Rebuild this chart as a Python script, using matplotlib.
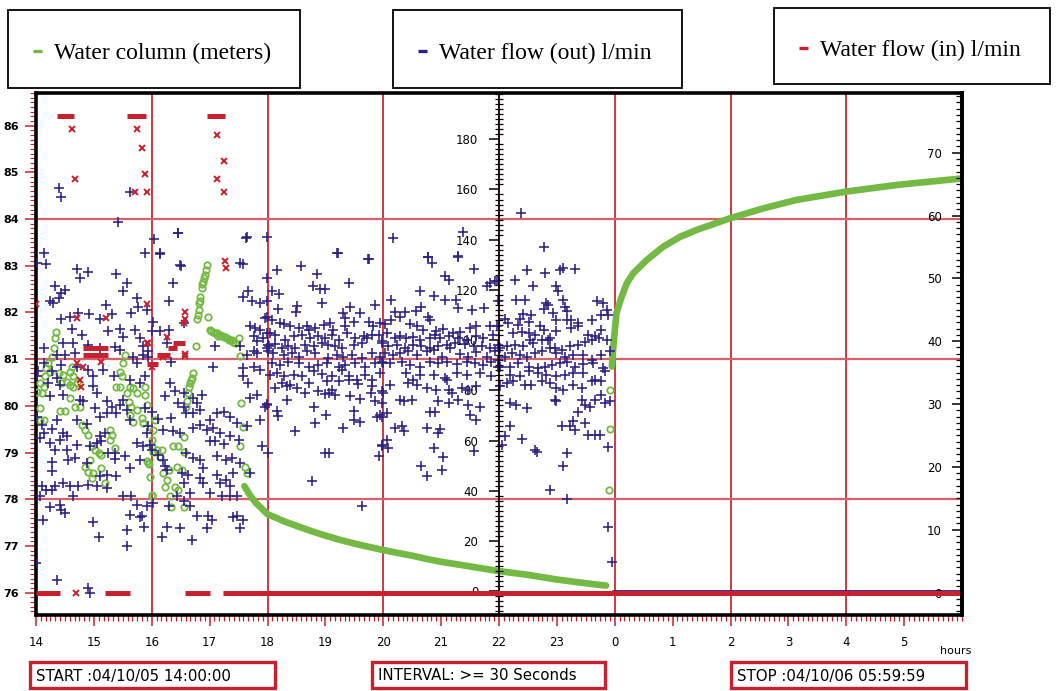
#!/usr/bin/env python3

'''Water column and water flow log, 04/10/05 14:00 to 04/10/06 06:00.'''

import matplotlib
matplotlib.use('Agg')
import matplotlib.pyplot as plt
import matplotlib.ticker as ticker
from matplotlib.lines import Line2D
from matplotlib.patches import Rectangle


W, H = 1056, 691
GREEN = '#74b943'
BLUE = '#2d2083'
RED = '#c8202e'
GRID_V = '#c92a36'
GRID_H = '#d6616d'
TICK_FONT = 8.5
SPINE_LW = 2.6

# ---------------------------------------------------------------- data
# time is in hours since midnight of 04/10/05 (24 -> 0 on the next day)
XTICK_HOURS = [14, 15, 16, 17, 18, 19, 20, 21, 22, 23, 24, 25, 26, 27, 28, 29]
XTICK_LABELS = ['14', '15', '16', '17', '18', '19', '20', '21', '22', '23',
                '0', '1', '2', '3', '4', '5']
GRID_HOURS = [16, 18, 20, 22, 24, 26, 28]
GRID_METERS = [78, 81, 84]

# water column (m), scattered readings before the pump settles
LEVEL_SCATTER = [
    (14.35, 81.59), (14.33, 81.45), (14.31, 81.23), (14.27, 81.05), (14.21, 80.91),
    (14.18, 80.80), (14.25, 80.73), (14.16, 80.63), (14.07, 80.48), (14.13, 80.41),
    (14.01, 80.30), (14.10, 80.27), (14.39, 80.70), (14.47, 80.66), (14.44, 80.48),
    (14.53, 80.52), (14.62, 80.84), (14.59, 80.73), (14.64, 80.63), (14.58, 80.45),
    (14.64, 80.41), (14.70, 80.48), (14.59, 80.16), (14.50, 79.88), (14.41, 79.88),
    (14.67, 79.98), (14.76, 79.98), (14.07, 79.95), (14.13, 79.70), (14.07, 79.70),
    (14.79, 79.59), (14.85, 79.48), (14.90, 79.38), (14.96, 79.13), (15.02, 79.06),
    (15.08, 78.98), (15.13, 78.95), (14.93, 78.84), (14.85, 78.70), (14.90, 78.59),
    (14.99, 78.56), (14.96, 78.45), (15.13, 78.66), (15.28, 79.48), (15.31, 79.38),
    (15.28, 79.27), (15.37, 79.09), (15.19, 78.34), (15.39, 80.41), (15.45, 80.41),
    (15.54, 81.09), (15.51, 80.91), (15.45, 80.73), (15.48, 80.63), (15.62, 80.41),
    (15.57, 80.27), (15.68, 80.38), (15.74, 80.27), (15.60, 80.09), (15.65, 79.98),
    (15.62, 79.80), (15.68, 79.66), (15.74, 79.91), (15.83, 79.73), (15.88, 80.41),
    (15.88, 80.23), (15.91, 80.02), (15.85, 79.63), (16.00, 79.13), (16.03, 79.02),
    (15.94, 78.77), (15.97, 78.48), (16.00, 78.06), (15.91, 78.81), (15.95, 78.75),
    (16.95, 83.02), (16.92, 82.80), (16.89, 82.66), (16.86, 82.52), (16.83, 82.34),
    (16.82, 82.20), (16.81, 82.05), (16.79, 81.85), (16.80, 81.95), (16.84, 82.25),
    (16.87, 82.60), (16.90, 82.73), (16.93, 82.90), (16.98, 81.91), (17.01, 81.62),
    (17.03, 81.60), (17.06, 81.58), (17.09, 81.55), (17.12, 81.55), (17.15, 81.50),
    (17.18, 81.52), (17.21, 81.50), (17.24, 81.47), (17.27, 81.48), (17.30, 81.45),
    (17.33, 81.42), (17.35, 81.41), (17.38, 81.40), (17.41, 81.37), (17.44, 81.34),
    (17.50, 81.45), (17.53, 81.07), (16.76, 81.28), (16.72, 80.70), (16.69, 80.59),
    (16.66, 80.48), (16.63, 80.27), (16.59, 79.98), (16.61, 80.10), (16.64, 80.40),
    (16.68, 80.55), (16.06, 79.70), (16.03, 79.48), (16.00, 79.27), (16.09, 79.06),
    (16.17, 79.06), (16.14, 78.91), (16.37, 79.13), (16.46, 79.13), (16.55, 79.02),
    (16.55, 79.34), (16.20, 78.56), (16.26, 78.41), (16.23, 78.27), (16.32, 78.06),
    (16.40, 78.27), (16.46, 78.20), (16.29, 78.63), (16.52, 78.63), (16.43, 78.70),
    (16.00, 78.09), (17.55, 80.05), (17.58, 79.55), (17.53, 79.13), (17.61, 78.70),
    (17.64, 78.56), (16.34, 77.84), (16.55, 77.84),
    (23.90, 78.20), (23.92, 79.50), (23.92, 80.33),
]

# water column (m), draining after 17:40
DRAIN_H = [17.60, 17.70, 17.80, 17.90, 18.00, 18.15, 18.30, 18.50, 18.75, 19.00,
           19.25, 19.50, 19.75, 20.00, 20.25, 20.50, 20.75, 21.00, 21.25, 21.50,
           21.75, 22.00, 22.25, 22.50, 22.75, 23.00, 23.25, 23.50, 23.70, 23.85]
DRAIN_M = [78.28, 78.08, 77.92, 77.80, 77.68, 77.60, 77.52, 77.43, 77.32, 77.22,
           77.13, 77.05, 76.98, 76.91, 76.85, 76.79, 76.72, 76.66, 76.61, 76.56,
           76.51, 76.46, 76.42, 76.38, 76.33, 76.28, 76.24, 76.20, 76.17, 76.15]

# water column (m), recovery after the pump stops
RECOVER_H = [23.95, 23.98, 24.03, 24.12, 24.21, 24.32, 24.55, 24.84, 25.13, 25.42,
             26.00, 26.57, 27.14, 28.01, 28.87, 30.00]
RECOVER_M = [80.84, 81.34, 81.99, 82.34, 82.63, 82.84, 83.12, 83.41, 83.62, 83.77,
             84.02, 84.23, 84.41, 84.59, 84.73, 84.87]

# water flow out (l/min)
FLOW_OUT_14_16 = [
    (14.40, 160.5), (14.44, 157.1), (15.62, 158.9),
    (15.42, 147.2), (14.13, 134.6), (15.88, 134.6), (14.01, 130.9), (14.17, 130.4),
    (14.70, 128.3), (14.89, 127.3), (14.76, 124.7), (15.38, 126.4), (15.57, 122.7),
    (14.33, 121.6), (14.50, 119.8), (14.44, 118.7), (15.51, 119.4), (15.74, 116.7),
    (14.24, 115.4), (14.39, 116.7), (14.30, 115.0), (15.21, 114.1), (15.77, 113.2),
    (15.65, 111.0), (15.91, 112.1), (14.73, 111.0), (14.92, 110.5), (14.44, 108.4),
    (14.59, 109.4), (15.31, 110.5), (15.11, 108.4), (15.25, 103.5), (14.62, 104.4),
    (15.45, 104.4), (15.71, 104.1), (14.79, 102.1), (15.51, 101.2), (15.80, 100.8),
    (14.47, 98.8), (14.64, 98.8), (14.90, 98.2), (15.11, 96.8), (15.37, 97.2),
    (15.45, 96.2), (15.85, 97.5), (15.94, 95.5), (14.13, 96.8), (14.36, 94.2),
    (14.50, 94.2), (14.67, 94.8), (15.68, 93.5), (15.85, 94.2), (14.13, 90.9),
    (14.44, 90.2), (14.70, 89.5), (14.90, 88.2), (15.16, 88.2), (15.74, 90.9),
    (15.94, 93.5), (14.04, 87.6), (14.27, 87.6), (14.01, 85.6), (14.36, 84.9),
    (14.99, 85.6), (15.34, 85.6), (15.62, 84.2), (15.88, 85.8), (14.21, 82.9),
    (14.41, 82.3), (15.80, 82.9), (14.99, 81.6), (15.05, 78.9), (14.47, 78.3),
    (14.24, 77.6), (14.76, 76.3), (14.82, 75.6), (15.22, 75.6), (15.31, 73.6),
    (15.45, 74.3), (15.51, 76.3), (15.02, 73.0), (15.39, 71.0), (15.22, 71.0),
    (15.57, 72.3), (15.88, 73.0), (14.01, 69.6), (14.36, 68.3), (14.70, 68.3),
    (14.88, 66.7), (15.11, 69.6), (15.62, 68.3), (15.94, 65.7), (14.10, 66.3),
    (14.13, 63.0), (14.27, 64.6), (14.47, 63.0), (14.53, 61.7), (14.41, 60.4),
    (15.11, 61.7), (15.19, 63.0), (15.91, 63.0), (14.07, 61.0), (14.24, 59.0),
    (14.33, 56.4), (14.53, 56.4), (14.70, 58.4), (14.93, 57.7), (15.05, 59.0),
    (15.13, 59.7), (15.25, 55.1), (15.37, 55.1), (15.54, 53.7), (15.74, 59.0),
    (15.85, 57.7), (15.97, 58.4), (14.27, 51.7), (14.56, 52.4), (14.67, 53.1),
    (14.88, 51.1), (15.37, 52.7), (15.62, 49.1), (15.80, 52.4), (14.27, 47.8),
    (15.11, 45.8), (15.22, 46.4), (15.39, 45.8), (14.10, 41.8), (14.33, 42.1),
    (14.47, 43.1), (14.59, 41.8), (14.73, 41.8), (14.90, 42.5), (15.05, 42.1),
    (15.22, 41.1), (14.18, 40.2), (14.07, 38.1), (14.64, 38.1), (15.51, 37.8),
    (15.65, 37.8), (14.27, 40.5), (14.41, 34.5), (14.50, 31.2), (15.62, 30.5),
    (15.74, 34.5), (15.83, 30.1), (15.91, 34.1), (14.24, 33.7), (14.44, 32.4),
    (14.12, 28.4), (14.98, 27.7), (15.08, 21.8), (15.57, 24.5), (15.57, 18.2),
    (15.80, 29.7), (15.87, 25.8), (14.36, 4.5), (14.90, 1.2), (14.94, -0.8),
    (14.00, 11.3),
]
FLOW_OUT_16_18 = [
    (16.04, 140.2), (16.46, 142.5), (17.63, 140.8), (16.15, 134.3), (16.50, 129.7),
    (17.57, 130.2), (16.46, 142.6), (17.64, 141.0), (16.14, 134.6), (16.49, 130.0),
    (17.53, 130.7), (16.37, 122.7), (17.99, 124.7), (16.29, 115.4), (17.67, 119.4),
    (17.58, 117.1), (17.73, 115.4), (17.87, 114.7), (17.99, 115.4), (16.03, 107.4),
    (16.55, 106.8), (17.96, 108.8), (17.70, 105.5), (17.78, 104.8), (17.87, 104.1),
    (17.99, 102.8), (17.76, 101.5), (17.81, 99.5), (17.93, 100.8), (18.01, 98.2),
    (16.00, 103.5), (16.14, 103.5), (16.29, 104.1), (16.26, 98.8), (17.09, 97.8),
    (17.53, 97.5), (17.76, 95.5), (17.64, 94.2), (17.81, 94.8), (17.99, 96.8),
    (16.34, 91.5), (17.06, 89.5), (17.58, 88.9), (17.76, 89.5), (17.87, 88.2),
    (16.32, 82.9), (16.40, 79.6), (16.23, 77.6), (16.55, 78.9), (16.86, 78.3),
    (16.72, 76.9), (17.58, 85.6), (17.67, 82.9), (17.81, 78.3), (17.70, 76.9),
    (17.99, 74.3), (16.46, 75.0), (16.55, 73.6), (16.78, 75.0), (16.72, 71.0),
    (16.83, 72.3), (16.00, 71.6), (16.11, 68.6), (16.34, 69.0), (16.60, 71.0),
    (17.01, 68.3), (17.12, 71.0), (17.24, 71.6), (17.35, 69.6), (17.47, 67.0),
    (17.64, 65.7), (17.87, 68.3), (17.96, 73.6), (16.20, 64.3), (16.37, 63.7),
    (16.49, 63.0), (16.72, 65.0), (16.83, 66.3), (16.95, 64.3), (17.06, 65.0),
    (17.18, 63.0), (17.35, 61.7), (17.50, 60.4), (17.01, 59.7), (17.09, 59.7),
    (17.24, 58.8), (17.90, 57.7), (18.01, 55.1), (16.00, 56.4), (16.11, 54.4),
    (16.60, 55.1), (16.72, 53.1), (16.83, 52.4), (16.89, 49.1), (17.12, 53.7),
    (17.29, 52.4), (17.38, 53.1), (17.53, 51.1), (17.70, 47.1), (16.20, 52.4),
    (16.23, 49.8), (16.26, 48.4), (16.52, 47.1), (16.63, 46.4), (16.83, 45.1),
    (16.89, 43.1), (17.12, 46.4), (17.18, 43.1), (17.29, 44.4), (17.35, 41.8),
    (17.41, 47.1), (16.55, 43.1), (16.43, 37.8), (16.66, 39.1), (17.01, 39.1),
    (17.21, 37.8), (17.35, 37.8), (17.47, 37.8), (16.03, 35.2), (16.29, 33.8),
    (16.55, 35.8), (16.66, 33.8), (16.78, 30.1), (16.98, 30.1), (17.47, 30.1),
    (17.58, 28.5), (16.17, 21.8), (16.26, 25.8), (16.49, 25.2), (16.69, 20.5),
    (16.95, 25.2), (17.04, 28.5), (17.41, 29.6), (17.52, 25.2),
]
FLOW_OUT_18_20 = [
    (17.99, 141.0), (19.20, 134.9), (19.75, 132.2), (18.58, 129.6), (18.16, 128.0),
    (18.85, 126.4), (18.78, 121.6), (18.91, 120.3), (18.99, 120.3), (19.40, 122.7),
    (18.08, 119.4), (18.20, 118.5), (18.94, 115.0), (18.51, 113.7), (18.19, 112.4),
    (18.50, 111.4), (19.31, 111.0), (19.43, 113.2), (19.60, 111.0), (19.86, 114.1),
    (19.34, 108.8), (17.99, 109.4), (19.21, 134.8), (19.73, 132.3),
    (18.08, 108.1), (18.22, 106.8), (18.28, 106.5), (18.39, 105.5), (18.54, 104.8),
    (18.68, 105.7), (18.71, 104.1), (18.82, 104.8), (18.97, 106.1), (19.08, 106.8),
    (19.14, 104.1), (19.34, 105.7), (19.49, 107.4), (19.75, 107.4), (19.83, 105.7),
    (19.95, 106.8), (18.05, 102.8), (18.13, 102.1), (18.31, 100.2), (18.45, 101.5),
    (18.59, 102.1), (18.74, 100.8), (18.88, 101.5), (19.00, 100.8), (19.11, 102.1),
    (19.23, 100.2), (19.37, 102.8), (19.52, 100.8), (19.66, 101.5), (19.80, 102.1),
    (19.92, 102.1), (18.02, 97.8), (18.13, 98.6), (18.25, 96.8), (18.36, 97.5),
    (18.48, 96.8), (18.65, 98.2), (18.80, 97.5), (18.94, 98.8), (19.05, 98.2),
    (19.17, 97.5), (19.28, 96.8), (19.49, 98.2), (19.63, 98.8), (19.72, 100.8),
    (19.98, 98.8), (18.00, 95.5), (18.10, 94.8), (18.28, 94.2), (18.42, 94.8),
    (18.54, 93.5), (18.68, 95.5), (18.82, 94.8), (19.05, 92.9), (19.20, 94.2),
    (19.31, 93.5), (19.46, 94.2), (19.63, 92.9), (19.80, 94.8), (19.95, 93.5),
    (18.08, 90.9), (18.22, 90.2), (18.36, 91.5), (18.54, 90.9), (18.71, 89.5),
    (18.88, 90.2), (19.03, 90.9), (19.23, 89.5), (19.34, 90.2), (19.52, 91.1),
    (19.69, 89.5), (19.86, 90.9), (20.00, 90.9), (18.05, 86.2), (18.16, 86.9),
    (18.28, 85.6), (18.45, 86.2), (18.59, 85.8), (18.80, 87.6), (18.94, 86.6),
    (19.11, 85.6), (19.28, 88.2), (19.40, 85.6), (19.54, 84.2), (19.69, 86.2),
    (19.80, 84.2), (19.95, 86.9), (18.25, 82.9), (18.39, 82.3), (18.51, 80.9),
    (18.71, 82.9), (18.88, 79.6), (19.03, 83.6), (19.11, 80.3), (19.23, 83.6),
    (19.40, 84.2), (19.57, 82.6), (19.80, 81.6), (18.13, 80.9), (18.33, 81.6),
    (18.65, 78.9), (19.00, 78.7), (19.07, 78.9), (19.17, 78.3), (19.43, 77.6),
    (19.60, 76.5), (19.79, 78.9), (19.98, 79.6), (18.33, 76.3), (17.99, 74.7),
    (18.81, 73.6), (18.16, 72.0), (18.19, 70.0), (19.01, 70.3), (19.50, 72.0),
    (19.86, 75.6), (19.95, 70.3), (19.89, 69.6), (19.98, 69.6), (18.82, 67.0),
    (19.50, 68.3), (19.60, 67.3), (19.31, 65.0), (18.48, 63.7), (19.98, 58.4),
    (19.92, 54.0), (19.00, 55.1), (19.07, 55.1), (18.77, 43.8), (19.64, 34.1),
]
FLOW_OUT_20_22 = [
    (20.17, 140.6), (21.38, 142.9), (20.78, 133.3), (20.84, 130.7), (21.29, 133.6),
    (21.56, 128.3), (21.07, 125.4), (21.13, 124.0), (20.64, 119.4), (20.87, 117.7),
    (20.14, 115.8), (21.07, 115.8), (21.26, 115.8), (21.30, 112.8), (21.84, 122.7),
    (21.93, 123.4), (21.79, 121.4), (21.53, 112.1), (21.74, 112.8), (20.66, 113.2),
    (20.56, 111.8), (20.38, 111.4), (20.20, 111.4), (20.29, 109.2), (20.14, 108.1),
    (20.78, 109.2), (20.81, 108.1), (20.46, 106.5), (20.58, 105.5), (20.69, 104.1),
    (20.92, 103.5), (21.04, 104.4), (21.21, 102.8), (21.33, 103.1), (21.50, 104.8),
    (21.61, 105.5), (21.84, 105.5), (20.03, 106.5), (20.06, 102.8), (20.20, 100.8),
    (20.29, 101.5), (20.40, 100.8), (20.52, 101.2), (20.64, 100.2), (20.81, 100.8),
    (20.89, 102.1), (20.98, 100.8), (21.13, 101.5), (21.30, 100.8), (21.44, 100.2),
    (21.61, 101.5), (21.73, 100.8), (21.90, 102.1), (19.97, 99.5), (20.09, 97.5),
    (20.23, 98.2), (20.38, 96.8), (20.52, 98.2), (20.66, 97.5), (20.81, 96.8),
    (20.95, 97.8), (21.10, 98.2), (21.24, 98.8), (21.41, 98.6), (21.56, 97.5),
    (21.70, 97.8), (21.84, 96.8), (21.99, 98.2), (20.03, 94.8), (20.17, 94.2),
    (20.29, 94.8), (20.43, 95.5), (20.58, 94.2), (20.75, 95.5), (20.87, 96.2),
    (21.01, 93.5), (21.15, 96.8), (21.33, 94.6), (21.47, 93.5), (21.61, 95.1),
    (21.79, 93.5), (21.93, 95.5), (19.97, 91.5), (20.12, 90.9), (20.32, 91.5),
    (20.46, 90.2), (20.64, 89.5), (20.81, 91.5), (20.95, 90.9), (21.10, 91.5),
    (21.27, 90.6), (21.44, 91.5), (21.59, 90.9), (21.73, 90.2), (21.87, 91.5),
    (21.99, 89.5), (20.40, 86.9), (20.52, 84.2), (20.64, 86.2), (20.87, 86.2),
    (21.07, 84.9), (21.27, 86.9), (21.44, 86.2), (21.67, 86.9), (21.87, 85.6),
    (20.12, 82.3), (20.43, 82.9), (20.58, 82.3), (20.75, 80.9), (20.92, 80.3),
    (21.10, 84.2), (21.13, 80.0), (21.18, 78.9), (21.36, 80.9), (21.47, 80.3),
    (21.61, 81.9), (20.00, 78.9), (20.29, 76.3), (20.35, 75.6), (20.49, 76.3),
    (20.95, 75.6), (21.13, 75.0), (21.30, 76.3), (21.47, 74.3), (21.67, 73.6),
    (20.06, 71.0), (19.97, 75.0), (20.81, 71.6), (20.89, 71.6), (21.50, 70.3),
    (21.61, 68.3), (20.20, 65.0), (20.32, 65.7), (20.35, 63.7), (20.75, 65.0),
    (20.98, 64.6), (20.95, 63.0), (20.06, 60.4), (19.97, 57.7), (20.09, 57.1),
    (20.87, 57.1), (21.56, 55.7), (21.04, 53.5), (20.66, 49.8), (20.75, 46.0),
    (21.01, 48.4), (20.77, 133.3), (21.29, 133.3),
]
FLOW_OUT_22_24 = [
    (22.38, 150.8), (22.77, 137.0), (22.48, 128.0), (22.79, 126.7), (23.05, 128.0),
    (23.11, 128.7), (23.31, 128.3), (22.28, 123.8), (22.59, 121.4), (22.99, 121.4),
    (23.02, 119.4), (21.96, 123.4), (22.30, 115.8), (22.45, 116.1), (22.82, 114.7),
    (22.85, 114.1), (23.11, 115.8), (23.14, 113.2), (23.69, 115.4), (23.80, 115.0),
    (22.77, 112.4), (22.94, 110.8), (23.17, 111.8), (23.86, 112.1), (23.77, 110.1),
    (23.89, 110.1), (21.99, 115.4), (22.10, 108.4), (22.42, 110.5), (22.56, 110.1),
    (22.36, 108.4), (22.16, 106.8), (22.33, 106.1), (22.51, 107.4), (22.71, 105.5),
    (22.99, 108.1), (23.17, 108.1), (23.25, 108.1), (23.37, 106.8), (23.60, 108.1),
    (21.96, 105.5), (22.25, 102.8), (22.39, 103.1), (22.51, 102.8), (22.62, 102.1),
    (22.77, 104.1), (22.88, 100.8), (22.99, 103.5), (23.25, 104.8), (23.37, 105.5),
    (23.54, 102.1), (23.66, 101.5), (23.77, 104.1), (22.02, 96.8), (22.13, 97.5),
    (22.28, 98.2), (22.42, 97.5), (22.53, 100.2), (22.59, 98.8), (22.74, 100.2),
    (22.85, 100.2), (22.97, 96.8), (23.08, 96.2), (23.23, 97.5), (23.37, 98.2),
    (23.49, 99.1), (23.60, 100.2), (23.72, 100.8), (23.86, 100.2), (21.99, 92.2),
    (22.10, 93.5), (22.22, 94.8), (22.36, 94.2), (22.48, 93.5), (22.62, 94.8),
    (22.74, 95.5), (22.88, 96.8), (22.99, 94.8), (23.14, 93.5), (23.28, 94.2),
    (23.46, 94.2), (23.60, 92.2), (23.77, 94.2), (23.92, 95.5), (22.02, 89.5),
    (22.19, 89.5), (22.33, 90.9), (22.51, 89.5), (22.68, 88.9), (22.79, 89.5),
    (22.91, 90.2), (23.05, 90.9), (23.17, 91.5), (23.31, 89.5), (23.46, 90.6),
    (23.63, 90.9), (23.80, 88.9), (22.19, 86.2), (22.36, 85.6), (22.51, 87.6),
    (22.68, 86.9), (22.82, 86.2), (22.99, 85.6), (23.14, 86.2), (23.28, 86.9),
    (23.46, 86.9), (23.66, 84.2), (23.83, 87.6), (22.13, 82.9), (22.25, 83.6),
    (22.45, 82.3), (22.56, 82.3), (22.74, 83.6), (22.88, 82.9), (22.99, 80.9),
    (23.11, 80.3), (23.28, 82.3), (23.43, 80.9), (23.60, 83.6), (23.77, 83.6),
    (22.02, 81.6), (22.19, 75.0), (22.30, 74.3), (22.48, 73.0), (22.97, 76.3),
    (22.99, 75.6), (23.43, 76.3), (23.49, 74.3), (23.57, 73.6), (23.66, 76.3),
    (23.77, 78.3), (23.83, 75.0), (23.92, 75.6), (23.37, 71.6), (23.28, 67.7),
    (23.31, 64.3), (23.23, 65.7), (23.08, 65.7), (23.49, 67.0), (23.54, 62.4),
    (23.66, 62.4), (23.74, 62.4), (22.19, 65.9), (22.10, 61.7), (22.39, 60.6),
    (22.05, 58.4), (22.62, 56.4), (22.65, 55.3), (23.17, 55.1), (23.89, 57.5),
    (23.11, 49.8), (22.88, 40.5), (23.17, 36.8), (23.89, 25.8), (23.95, 11.6),
]
# pump off: flow out stays at zero
FLOW_OUT_ZERO_FROM = 23.95
FLOW_OUT_ZERO_TO = 30.0

# water flow in (l/min): steady stretches ...
FLOW_IN_START = [14.00, 14.37, 14.81, 14.81, 15.19, 15.57, 15.92, 16.09, 16.28,
                 16.37, 16.57, 16.96, 17.23]
FLOW_IN_END = [14.42, 14.66, 15.24, 15.24, 15.62, 15.90, 16.10, 16.31, 16.44,
               16.57, 17.00, 17.27, 30.00]
FLOW_IN_LEVEL = [0.0, 75.8, 38.9, 37.8, 0.0, 75.8, 36.4, 37.8, 38.9,
                 39.7, 0.0, 75.8, 0.0]
# ... and single readings in between
FLOW_IN_H = [14.00, 14.63, 14.67, 14.69, 14.70, 14.70, 14.76, 14.77, 14.82, 15.13,
             15.21, 15.71, 15.74, 15.84, 15.88, 15.91, 15.91, 15.92, 15.93, 16.00,
             16.20, 16.26, 16.55, 16.57, 16.57, 16.57, 16.57, 17.12, 17.13, 17.24,
             17.25, 17.27, 17.28]
FLOW_IN_V = [45.9, 73.8, 65.8, 0.0, 43.7, 36.5, 33.8, 32.7, 35.9, 36.7,
             43.7, 63.7, 73.8, 70.7, 66.6, 63.7, 45.9, 39.7, 39.7, 35.9,
             37.5, 40.7, 42.9, 44.6, 43.5, 37.6, 37.9, 72.8, 65.8, 63.7,
             68.7, 52.7, 51.7]

LEGEND_LABELS = ['Water column (meters)', 'Water flow (out) l/min',
                 'Water flow (in) l/min']
INFO_LABELS = ['START :04/10/05 14:00:00', 'INTERVAL: >= 30 Seconds',
               'STOP :04/10/06 05:59:59']


def px(x, y):
    '''Pixel position of the reference picture to figure fraction.'''
    return x / W, 1 - y / H


def format_level_axis(axis):
    '''Left axis: water column in meters, also carries the x axis.'''
    axis.set_xlim(14, 30)
    axis.set_ylim(75.52, 86.70)
    axis.set_xticks(XTICK_HOURS)
    axis.set_xticklabels(XTICK_LABELS)
    axis.xaxis.set_minor_locator(ticker.MultipleLocator(1 / 12))
    axis.set_yticks(range(76, 87))
    axis.yaxis.set_minor_locator(ticker.MultipleLocator(0.1))
    axis.tick_params(axis='x', which='major', direction='out', length=8,
                     width=1.1, color=RED, pad=7, labelsize=TICK_FONT)
    axis.tick_params(axis='x', which='minor', direction='out', length=4.5,
                     width=0.9, color=RED)
    axis.tick_params(axis='y', which='major', direction='out', length=8,
                     width=1.1, color=RED, pad=4.5, labelsize=8)
    axis.tick_params(axis='y', which='minor', direction='out', length=4,
                     width=0.8, color=RED)
    for label in axis.get_yticklabels():
        label.set_fontweight('bold')
    for side in ('left', 'right', 'top', 'bottom'):
        axis.spines[side].set_linewidth(SPINE_LW)
        axis.spines[side].set_color('black')
    for hour in GRID_HOURS:
        axis.axvline(hour, color=GRID_V, lw=1.3, zorder=0)
    for meter in GRID_METERS:
        axis.axhline(meter, color=GRID_H, lw=1.6, zorder=0)


def format_out_axis(axis):
    '''Middle axis at 22:00: water flow out.'''
    axis.set_ylim(-9.4, 198.4)
    axis.spines['left'].set_position(('data', 22))
    axis.spines['left'].set_visible(True)
    axis.spines['left'].set_linewidth(1.1)
    for side in ('right', 'top', 'bottom'):
        axis.spines[side].set_visible(False)
    axis.yaxis.set_ticks_position('left')
    axis.set_yticks(range(0, 181, 20))
    axis.yaxis.set_minor_locator(ticker.MultipleLocator(2))
    axis.tick_params(axis='y', which='major', direction='out', length=7,
                     width=1.1, color='black', pad=8, labelsize=TICK_FONT)
    axis.tick_params(axis='y', which='minor', direction='inout', length=6,
                     width=0.9, color='black')


def format_in_axis(axis):
    '''Right axis: water flow in, labels inside the frame.'''
    axis.set_ylim(-3.58, 79.5)
    for side in ('left', 'top', 'bottom'):
        axis.spines[side].set_visible(False)
    axis.spines['right'].set_linewidth(SPINE_LW)
    axis.set_yticks(range(0, 71, 10))
    axis.yaxis.set_minor_locator(ticker.MultipleLocator(1))
    axis.tick_params(axis='y', which='major', direction='in', length=7,
                     width=1.1, color='black', pad=-14.4, labelsize=TICK_FONT)
    axis.tick_params(axis='y', which='minor', direction='in', length=4,
                     width=0.9, color='black')
    for tick in axis.yaxis.get_major_ticks():
        tick.label2.set_horizontalalignment('right')


def draw_boxes(fig):
    '''Legend boxes on top, run information boxes below.'''
    legend_boxes = [(8, 10, 292, 78), (393, 10, 289, 78), (774, 8, 276, 76)]
    colors = [GREEN, BLUE, RED]
    for (x, y, w, h), text, color in zip(legend_boxes, LEGEND_LABELS, colors):
        fig.add_artist(Rectangle(px(x, y + h), w / W, h / H, fill=False,
                                 edgecolor='black', lw=1.3,
                                 transform=fig.transFigure))
        mid = y + h / 2 + 4
        x0, yy = px(x + 25, mid - 2)
        x1, _ = px(x + 34, mid - 2)
        fig.add_artist(Line2D([x0, x1], [yy, yy], color=color, lw=2.4,
                              solid_capstyle='butt',
                              transform=fig.transFigure))
        fig.text(*px(x + 46, mid), text, family='Liberation Serif',
                 fontsize=17, ha='left', va='center')

    info_boxes = [(30, 662, 245, 26), (372, 662, 233, 26), (731, 662, 235, 26)]
    for (x, y, w, h), text in zip(info_boxes, INFO_LABELS):
        fig.add_artist(Rectangle(px(x, y + h), w / W, h / H, facecolor='white',
                                 edgecolor=RED, lw=2.4,
                                 transform=fig.transFigure))
        fig.text(*px(x + 6, y + h / 2 + 1), text, family='DejaVu Sans',
                 fontsize=10.8, ha='left', va='center')

    fig.text(*px(940, 651), 'hours', fontsize=8, ha='left', va='center')


def plot_log():
    '''Plot the log and save out.png.'''
    fig = plt.figure(figsize=(W / 100, H / 100), dpi=100)
    left, bottom = px(36, 615)
    right, top = px(962, 93)
    ax = fig.add_axes([left, bottom, right - left, top - bottom])
    format_level_axis(ax)

    # water column
    ax.plot(DRAIN_H, DRAIN_M, color=GREEN, lw=4.8, solid_capstyle='round',
            zorder=2)
    ax.plot(RECOVER_H, RECOVER_M, color=GREEN, lw=4.8,
            solid_capstyle='round', zorder=2)
    ax.plot([p[0] for p in LEVEL_SCATTER], [p[1] for p in LEVEL_SCATTER],
            ls='none', marker='o', ms=4.6, mfc='none', mec=GREEN, mew=1.3,
            zorder=3)

    # water flow out
    axm = ax.twinx()
    format_out_axis(axm)
    flow_out = (FLOW_OUT_14_16 + FLOW_OUT_16_18 + FLOW_OUT_18_20
                + FLOW_OUT_20_22 + FLOW_OUT_22_24)
    axm.plot([p[0] for p in flow_out], [p[1] for p in flow_out], ls='none',
             marker='+', ms=7, mew=1.15, color=BLUE)
    axm.hlines(0, FLOW_OUT_ZERO_FROM, FLOW_OUT_ZERO_TO, color=BLUE, lw=2)

    # water flow in
    axr = ax.twinx()
    format_in_axis(axr)
    axr.hlines(FLOW_IN_LEVEL, FLOW_IN_START, FLOW_IN_END, color=RED, lw=3.6)
    axr.plot(FLOW_IN_H, FLOW_IN_V, ls='none', marker='x', ms=4, mew=1.4,
             color=RED)

    draw_boxes(fig)
    fig.savefig('out.png', dpi=100)


if __name__ == '__main__':
    plot_log()
